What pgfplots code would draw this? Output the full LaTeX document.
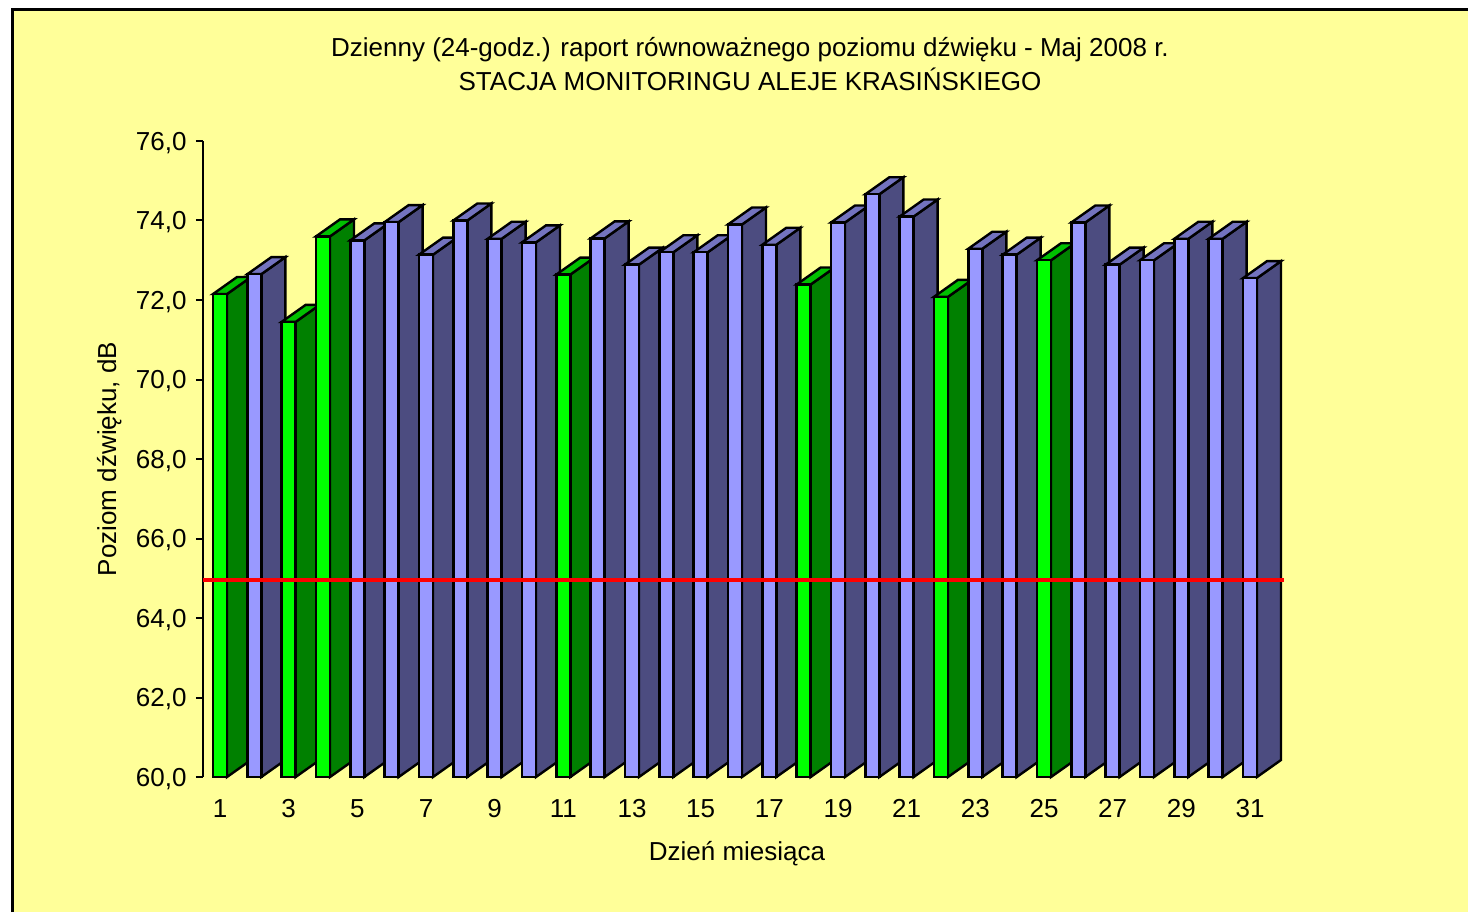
\documentclass[border=0pt]{standalone}
\usepackage{pgfplots}
\pgfplotsset{compat=1.18}
\usepackage{pgfplotstable}
\usepackage{fontspec}
\setmainfont{Liberation Sans}
\definecolor{bg}{HTML}{FFFF99}
\definecolor{gF}{HTML}{00FF00}
\definecolor{gS}{HTML}{008000}
\definecolor{gT}{HTML}{00C000}
\definecolor{bF}{HTML}{9999FF}
\definecolor{bS}{HTML}{4C4C80}
\definecolor{bT}{HTML}{7373BF}

\pgfplotstableread{
day v g
1 72.15 1
2 72.65 0
3 71.45 1
4 73.60 1
5 73.50 0
6 73.96 0
7 73.14 0
8 74.00 0
9 73.54 0
10 73.45 0
11 72.64 1
12 73.55 0
13 72.89 0
14 73.20 0
15 73.20 0
16 73.90 0
17 73.39 0
18 72.39 1
19 73.95 0
20 74.66 0
21 74.10 0
22 72.08 1
23 73.29 0
24 73.14 0
25 73.00 1
26 73.95 0
27 72.89 0
28 73.00 0
29 73.54 0
30 73.54 0
31 72.55 0
}\leqtable

\def\hgt{0}
\def\grn{0}
\pgfdeclareplotmark{bar3d}{%
  \ifdim\grn pt>0.5pt \def\cF{gF}\def\cS{gS}\def\cT{gT}\else\def\cF{bF}\def\cS{bS}\def\cT{bT}\fi
  \pgfsetlinewidth{1.2pt}\pgfsetmiterjoin
  \pgfsetstrokecolor{black}%
  \pgfsetfillcolor{\cS}%
  \pgfpathmoveto{\pgfpoint{3.5pt}{-\hgt pt}}%
  \pgfpathlineto{\pgfpoint{15.5pt}{-\hgt pt+8.5pt}}%
  \pgfpathlineto{\pgfpoint{15.5pt}{8.5pt}}%
  \pgfpathlineto{\pgfpoint{3.5pt}{0pt}}%
  \pgfpathclose
  \pgfusepath{fill,stroke}%
  \pgfsetfillcolor{\cT}%
  \pgfpathmoveto{\pgfpoint{-3.5pt}{0pt}}%
  \pgfpathlineto{\pgfpoint{3.5pt}{0pt}}%
  \pgfpathlineto{\pgfpoint{15.5pt}{8.5pt}}%
  \pgfpathlineto{\pgfpoint{8.5pt}{8.5pt}}%
  \pgfpathclose
  \pgfusepath{fill,stroke}%
  \pgfsetfillcolor{\cF}%
  \pgfpathrectanglecorners{\pgfpoint{-3.5pt}{-\hgt pt}}{\pgfpoint{3.5pt}{0pt}}%
  \pgfusepath{fill,stroke}%
}

\begin{document}
\begin{tikzpicture}
\fill[white] (0,0) rectangle (734pt,456pt);
\fill[bg] (5.5pt,0) rectangle (734pt,452pt);
\draw[line width=1.5pt] (6.25pt,0) -- (6.25pt,451.25pt) -- (734pt,451.25pt);

\node[anchor=base, font=\fontsize{13}{16}\selectfont] at (375pt,427.5pt)
  {Dzienny (24-godz.) raport równoważnego poziomu dźwięku - Maj 2008 r.};
\node[anchor=base, font=\fontsize{13}{16}\selectfont] at (375pt,410.5pt)
  {STACJA MONITORINGU ALEJE KRASIŃSKIEGO};
\node[anchor=base, font=\fontsize{13}{16}\selectfont] at (368.5pt,26pt) {Dzień miesiąca};
\node[anchor=base, rotate=90, font=\fontsize{13}{16}\selectfont] at (58pt,226.5pt) {Poziom dźwięku, dB};

\begin{axis}[
  at={(101.5pt,67.5pt)}, anchor=south west,
  x=17.167pt, y=19.875pt,
  xmin=0.505, xmax=31.99, ymin=60, ymax=76,
  clip=false,
  clip marker paths=true,
  axis lines=left,
  axis line style={-, line width=1pt, black},
  x axis line style={draw=none},
  xtick={1,3,5,7,9,11,13,15,17,19,21,23,25,27,29,31},
  xticklabels={1,3,5,7,9,11,13,15,17,19,21,23,25,27,29,31},
  xtick style={draw=none},
  ytick={60,62,64,66,68,70,72,74,76},
  yticklabels={{60,0},{62,0},{64,0},{66,0},{68,0},{70,0},{72,0},{74,0},{76,0}},
  ytick style={black, line width=1pt},
  tick align=outside,
  major tick length=3.5pt,
  tick label style={font=\fontsize{13}{16}\selectfont, inner sep=0pt},
  xticklabel style={anchor=base, yshift=-16.5pt},
  yticklabel style={anchor=base east, xshift=-4.5pt, yshift=-4.6pt},
]
\addplot[scatter, only marks, mark=bar3d,
  scatter/@pre marker code/.code={\pgfscope},
  scatter/@post marker code/.code={\endpgfscope},
  visualization depends on={(\thisrow{v}-60)*19.875 \as \hgt},
  visualization depends on={\thisrow{g} \as \grn},
] table[x=day, y=v] {\leqtable};
\addplot[draw=red, line width=2pt, mark=none] coordinates {(0.505,64.95) (31.99,64.95)};
\end{axis}
\pgfresetboundingbox
\useasboundingbox (0,0) rectangle (734pt,456pt);
\end{tikzpicture}
\end{document}
